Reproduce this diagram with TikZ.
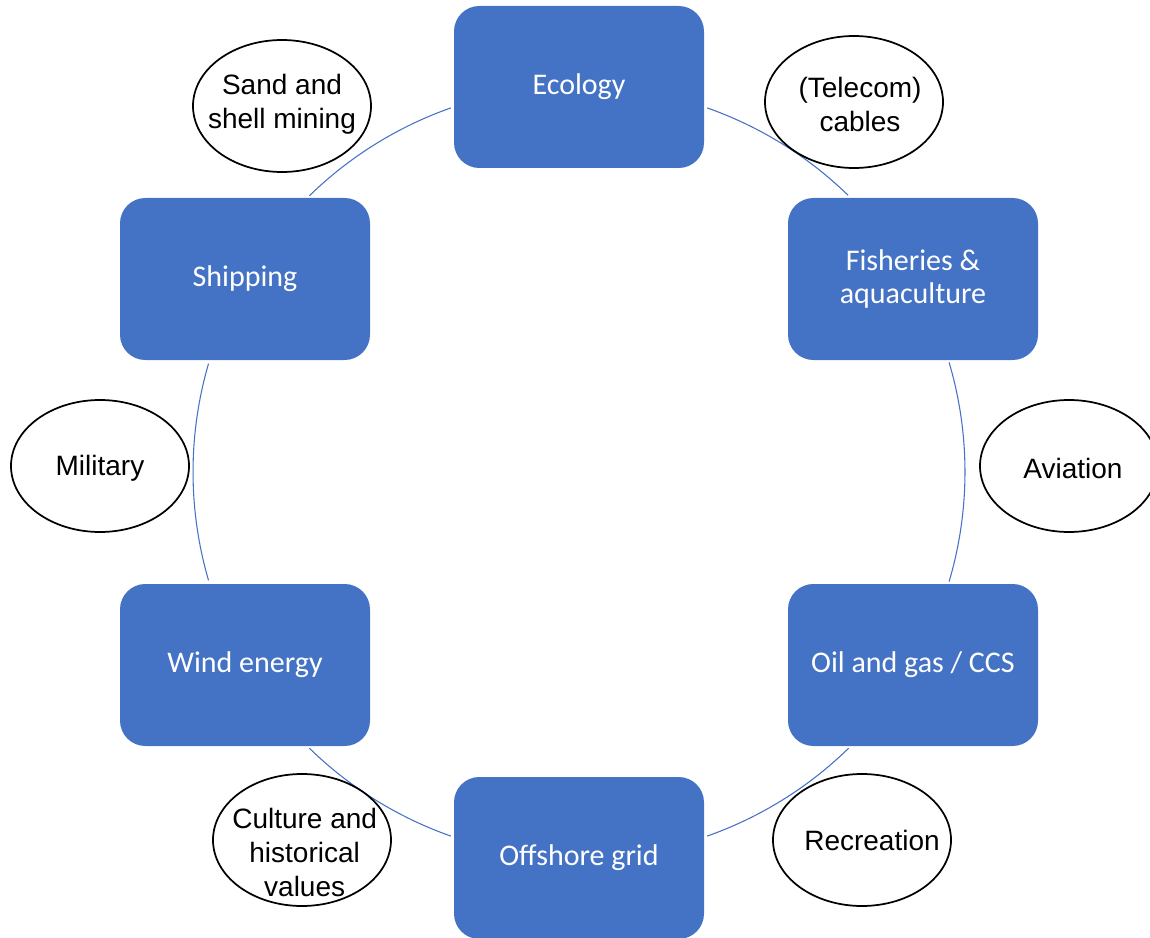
\documentclass[tikz,border=0pt]{standalone}
\usepackage{fontspec}
\setmainfont{Liberation Sans}
\newfontfamily\boxfont{Carlito}
\usetikzlibrary{shapes.geometric}
\definecolor{accent}{HTML}{4472C4}
\begin{document}
\begin{tikzpicture}[x=0.75pt,y=0.75pt,
  topic/.style={rectangle, rounded corners=19pt, fill=accent, minimum width=187.5pt,
    minimum height=121.5pt, text=white, font=\boxfont\fontsize{22.5}{25}\selectfont,
    align=center, inner sep=0pt},
  usebub/.style={ellipse, draw=black, line width=1.3pt, fill=white,
    minimum width=133.5pt, minimum height=99pt, inner sep=0pt},
  btext/.style={font=\fontsize{21}{25.5}\selectfont, align=center, text=black},
  ring/.style={draw=accent, line width=0.8pt}]
\useasboundingbox (0,0) rectangle (1150,-938);
\coordinate (ctr) at (579,-472);

% ring arcs between the topic boxes
\draw[ring] (ctr) ++(70.6:386) arc[start angle=70.6, end angle=45.8, radius=386];
\draw[ring] (ctr) ++(16.5:386) arc[start angle=16.5, end angle=-16.5, radius=386];
\draw[ring] (ctr) ++(-45.7:386) arc[start angle=-45.7, end angle=-70.6, radius=386];
\draw[ring] (ctr) ++(-109.4:386) arc[start angle=-109.4, end angle=-134.3, radius=386];
\draw[ring] (ctr) ++(-163.7:386) arc[start angle=-163.7, end angle=-196.3, radius=386];
\draw[ring] (ctr) ++(134.3:386) arc[start angle=134.3, end angle=109.4, radius=386];

% topic boxes
\node[topic] (eco)  at (579,-87)  {Ecology};
\node[topic] (fish) at (913,-279) {Fisheries \&\\aquaculture};
\node[topic] (oil)  at (913,-665) {Oil and gas / CCS};
\node[topic] (grid) at (579,-858) {Offshore grid};
\node[topic] (wind) at (245,-665) {Wind energy};
\node[topic] (ship) at (245,-279) {Shipping};

% other uses
\node[usebub, label={[btext, yshift=1.5pt]center:{Sand and\\shell mining}}] (sand) at (282,-106) {};
\node[usebub, label={[btext, xshift=4.5pt, yshift=-1.5pt]center:{(Telecom)\\cables}}] (tel) at (854,-102) {};
\node[usebub, label={[btext, xshift=3pt, yshift=-2pt]center:{Aviation}}] (avi) at (1069,-466) {};
\node[usebub, label={[btext, yshift=-1.5pt]center:{Military}}] (mil) at (100,-466) {};
\node[usebub, label={[btext, xshift=2pt, yshift=-9pt]center:{Culture and\\historical\\values}}] (cult) at (302,-840) {};
\node[usebub, label={[btext, xshift=7.5pt]center:{Recreation}}] (rec) at (862,-840) {};
\end{tikzpicture}
\end{document}
